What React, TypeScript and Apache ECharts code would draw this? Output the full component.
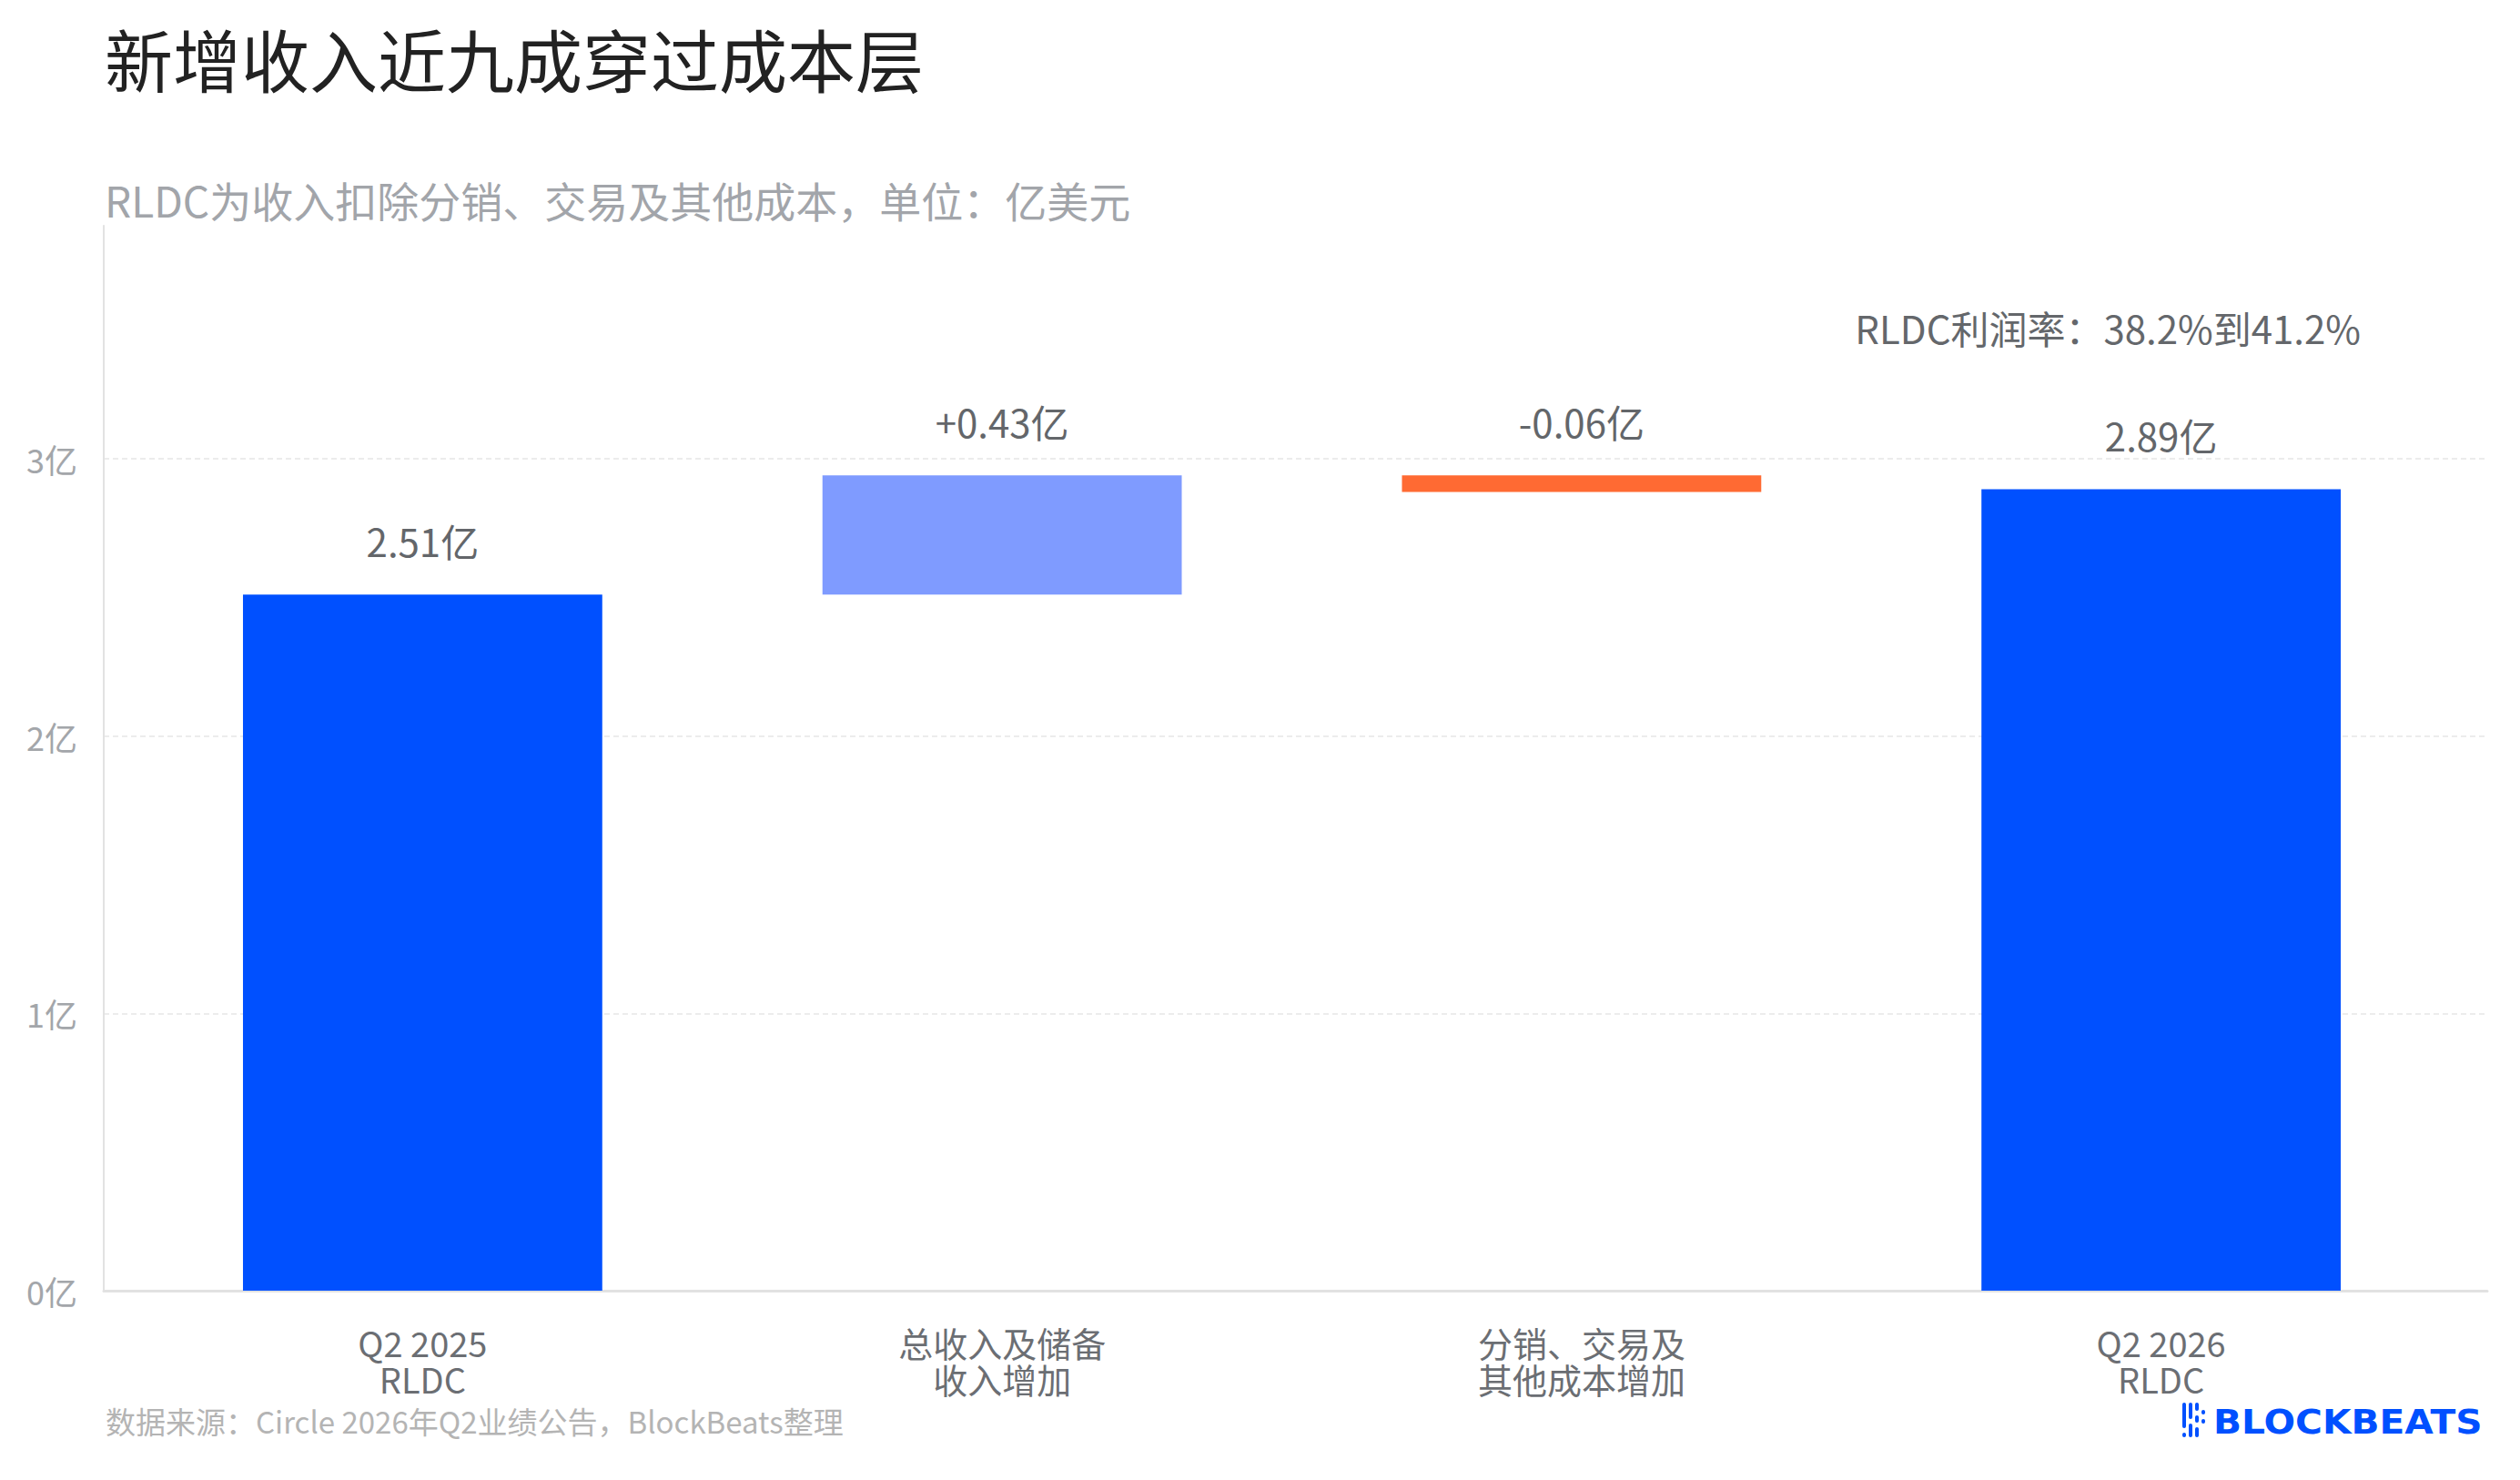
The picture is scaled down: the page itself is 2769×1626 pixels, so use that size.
import React, { useEffect, useRef } from "react";
import * as echarts from "echarts";

const categories = ["Q2 2025\nRLDC", "总收入及储备\n收入增加", "分销、交易及\n其他成本增加", "Q2 2026\nRLDC"];
const changes = [2.51, 0.43, -0.06, 2.89];
const kinds = ["total", "delta", "delta", "total"];
const barColors = ["#0050ff", "#7f9bff", "#ff6a33", "#0050ff"];
const yTicks = [0, 1, 2, 3];
const yMax = 3.84;

const FONT = "'Noto Sans CJK SC', 'Noto Sans', sans-serif";

function buildWaterfall() {
  const base: number[] = [];
  const visible: number[] = [];
  let running = 0;
  changes.forEach((v, i) => {
    if (kinds[i] === "total") {
      base.push(0);
      visible.push(v);
      running = v;
    } else if (v >= 0) {
      base.push(running);
      visible.push(v);
      running = +(running + v).toFixed(4);
    } else {
      running = +(running + v).toFixed(4);
      base.push(running);
      visible.push(-v);
    }
  });
  return { base, visible };
}

export default function App() {
  const ref = useRef<HTMLDivElement>(null);
  useEffect(() => {
    if (!ref.current) return;
    const chart = echarts.init(ref.current, null, { renderer: "svg" });
    const { base, visible } = buildWaterfall();
    const labelText = (i: number) => {
      const v = changes[i];
      const sign = kinds[i] === "delta" && v > 0 ? "+" : "";
      return sign + v.toFixed(2) + "亿";
    };
    chart.setOption({
      animation: false,
      backgroundColor: "#ffffff",
      textStyle: { fontFamily: FONT },
      grid: [
        { left: 146, right: 76, top: 248, bottom: 208 },
        { left: 114, right: 36, top: 248, bottom: 208 },
      ],
      xAxis: [
        {
          type: "category",
          gridIndex: 0,
          data: categories,
          axisLine: { show: false },
          axisTick: { show: false },
          axisLabel: {
            fontSize: 38,
            lineHeight: 40,
            color: "#6b6e73",
            margin: 36,
            fontFamily: FONT,
          },
        },
        {
          type: "value",
          gridIndex: 1,
          min: 0,
          max: 1,
          axisLine: { show: true, lineStyle: { color: "#e2e2e2", width: 3 } },
          axisTick: { show: false },
          axisLabel: { show: false },
          splitLine: { show: false },
        },
      ],
      yAxis: [
        {
          type: "value",
          gridIndex: 0,
          min: 0,
          max: yMax,
          show: false,
          splitLine: { show: false },
        },
        {
          type: "value",
          gridIndex: 1,
          min: 0,
          max: yMax,
          interval: 1,
          axisLine: { show: true, lineStyle: { color: "#e2e2e2", width: 2 } },
          axisTick: { show: false },
          axisLabel: {
            fontSize: 36,
            color: "#a3a6aa",
            margin: 29,
            showMaxLabel: false,
            fontFamily: FONT,
            formatter: (v: number) => (yTicks.includes(v) ? `${v}亿` : ""),
          },
          splitLine: {
            show: true,
            showMinLine: false,
            showMaxLine: false,
            lineStyle: { color: "#ececec", width: 2, type: [6, 4] },
          },
        },
      ],
      series: [
        {
          type: "bar",
          xAxisIndex: 0,
          yAxisIndex: 0,
          stack: "wf",
          barWidth: "62%",
          data: base,
          itemStyle: { color: "transparent" },
          silent: true,
        },
        {
          type: "bar",
          xAxisIndex: 0,
          yAxisIndex: 0,
          stack: "wf",
          barWidth: "62%",
          data: visible.map((v, i) => ({ value: v, itemStyle: { color: barColors[i] } })),
          label: {
            show: true,
            position: "top",
            distance: 39,
            fontSize: 42,
            color: "#63666a",
            fontFamily: FONT,
            formatter: (p: any) => labelText(p.dataIndex),
          },
        },
      ],
      graphic: [
        {
          type: "text",
          left: 115,
          top: 26,
          style: { text: "新增收入近九成穿过成本层", fontSize: 75, fill: "#222222", fontFamily: FONT },
        },
        {
          type: "text",
          left: 115,
          top: 196,
          style: {
            text: "RLDC为收入扣除分销、交易及其他成本，单位：亿美元",
            fontSize: 46,
            fill: "#a2a5aa",
            fontFamily: FONT,
          },
        },
        {
          type: "text",
          right: 2769 - 2594,
          top: 338,
          style: { text: "RLDC利润率：38.2%到41.2%", fontSize: 42, fill: "#64676b", fontFamily: FONT },
        },
        {
          type: "text",
          left: 116,
          top: 1544,
          style: {
            text: "数据来源：Circle 2026年Q2业绩公告，BlockBeats整理",
            fontSize: 33,
            fill: "#b4b4b4",
            fontFamily: FONT,
          },
        },
        {
          type: "group",
          left: 2398,
          top: 1541,
          children: [
            { type: "rect", shape: { x: 0, y: 0, width: 4, height: 28, r: 2 }, style: { fill: "#0050ff" } },
            { type: "rect", shape: { x: 0, y: 33, width: 4, height: 5, r: 2 }, style: { fill: "#0050ff" } },
            { type: "rect", shape: { x: 7, y: 0, width: 4, height: 18, r: 2 }, style: { fill: "#0050ff" } },
            { type: "rect", shape: { x: 7, y: 23, width: 4, height: 15, r: 2 }, style: { fill: "#0050ff" } },
            { type: "rect", shape: { x: 14, y: 0, width: 4, height: 9, r: 2 }, style: { fill: "#0050ff" } },
            { type: "rect", shape: { x: 14, y: 14, width: 4, height: 8, r: 2 }, style: { fill: "#0050ff" } },
            { type: "rect", shape: { x: 14, y: 27, width: 4, height: 11, r: 2 }, style: { fill: "#0050ff" } },
            { type: "rect", shape: { x: 21, y: 8, width: 4, height: 5, r: 2 }, style: { fill: "#0050ff" } },
            { type: "rect", shape: { x: 21, y: 18, width: 4, height: 5, r: 2 }, style: { fill: "#0050ff" } },
            {
              type: "text",
              x: 34,
              y: 3,
              scaleX: 1.1,
              style: {
                text: "BLOCKBEATS",
                fontSize: 37,
                fontWeight: 900,
                fill: "#0050ff",
                fontFamily: "'DejaVu Sans', sans-serif",
              },
            },
          ],
        },
      ],
    });
    return () => chart.dispose();
  }, []);
  return (
    <div
      ref={ref}
      style={{ position: "absolute", left: 0, top: 0, width: 2769, height: 1626, background: "#fff" }}
    />
  );
}
